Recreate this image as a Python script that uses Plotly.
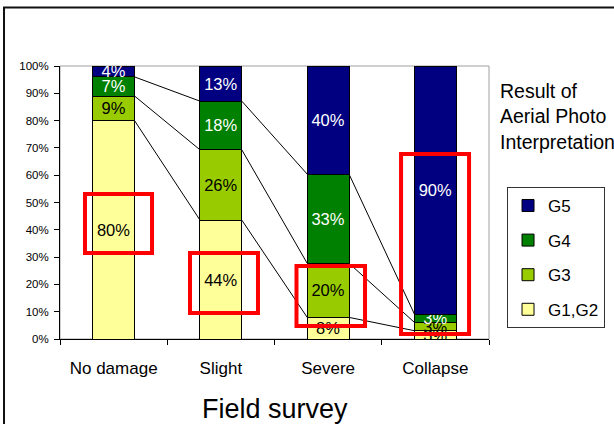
import plotly.graph_objects as go

categories = ["No damage", "Slight", "Severe", "Collapse"]
series_names = ["G1,G2", "G3", "G4", "G5"]
g12 = [80, 44, 8, 3]
g3 = [9, 26, 20, 3]
g4 = [7, 18, 33, 3]
g5 = [4, 13, 40, 90]
y_ticks = [0, 10, 20, 30, 40, 50, 60, 70, 80, 90, 100]
y_tick_labels = [f"{v}%" for v in y_ticks]

colors = ["#FFFF99", "#99CC00", "#008000", "#000080"]
text_colors = ["black", "black", "white", "white"]
REG = "Liberation Sans, Arial, sans-serif"
BAR_W = 0.39

series = [g12, g3, g4, g5]
fig = go.Figure()
for k, (name, vals, col, tc) in enumerate(zip(series_names, series, colors, text_colors)):
    fig.add_trace(go.Bar(
        x=categories, y=vals, name=name, legendgroup=name,
        legendrank=len(series) - k,
        marker=dict(color=col, line=dict(color="black", width=1)),
        width=BAR_W,
        text=[f"{v}%" for v in vals], textposition="inside",
        insidetextanchor="middle", textangle=0,
        textfont=dict(family=REG, size=16.5, color=tc),
        hoverinfo="skip",
    ))

# series lines connecting cumulative tops between adjacent bars
totals = [sum(s[i] for s in series) for i in range(len(categories))]
cum = [[0.0] * len(categories) for _ in series]
for i in range(len(categories)):
    acc = 0.0
    for k, s in enumerate(series):
        acc += s[i]
        cum[k][i] = acc / totals[i] * 100
for k in range(len(series) - 1):
    for i in range(len(categories) - 1):
        fig.add_trace(go.Scatter(
            x=[i + BAR_W / 2, i + 1 - BAR_W / 2], y=[cum[k][i], cum[k][i + 1]],
            xaxis="x2", mode="lines", line=dict(color="black", width=1),
            showlegend=False, hoverinfo="skip",
        ))

red_boxes = [(-0.267, 31.5, 0.358, 53.1), (0.712, 9.5, 1.346, 31.5),
             (1.705, 4.8, 2.344, 26.7), (2.68, 1.8, 3.314, 67.8)]
shapes = [
    dict(type="rect", xref="paper", yref="paper", x0=0, y0=0, x1=1, y1=1,
         line=dict(color="#a0a0a0", width=1), layer="below"),
    dict(type="rect", xref="paper", yref="paper", x0=-0.1305, y0=-0.6, x1=1.6, y1=1.214,
         line=dict(color="#111111", width=2), layer="below"),
]
for x0, y0, x1, y1 in red_boxes:
    shapes.append(dict(type="rect", xref="x2", yref="y", x0=x0, y0=y0, x1=x1, y1=y1,
                       line=dict(color="#FF0000", width=4)))

fig.update_layout(
    width=614, height=424,
    margin=dict(l=60, r=125, t=66, b=85, autoexpand=False),
    paper_bgcolor="white", plot_bgcolor="white",
    barmode="stack", barnorm="percent",
    uniformtext=dict(mode="show", minsize=16.5),
    font=dict(family=REG, color="black"),
    xaxis=dict(type="category", range=[-0.5, 3.5], tickson="boundaries",
               ticks="outside", ticklen=5, tickcolor="black", tickangle=0,
               showline=True, linecolor="black", linewidth=1, showgrid=False,
               automargin=False,
               tickfont=dict(family=REG, size=17), ticklabelstandoff=14),
    xaxis2=dict(overlaying="x", range=[-0.5, 3.5], visible=False),
    yaxis=dict(range=[0, 100], tickvals=y_ticks, ticktext=y_tick_labels,
               ticks="outside", ticklen=5, tickcolor="black",
               showline=True, linecolor="black", linewidth=1, showgrid=False,
               automargin=False,
               tickfont=dict(family=REG, size=11.5), ticklabelstandoff=3, zeroline=False),
    legend=dict(x=1.042, y=0.557, xanchor="left", yanchor="top",
                traceorder="grouped", tracegroupgap=9.5,
                bordercolor="#333333", borderwidth=1,
                font=dict(family=REG, size=17)),
    shapes=shapes,
    annotations=[
        dict(text="Result of<br>Aerial Photo<br>Interpretation", xref="paper", yref="paper",
             x=1.021, y=0.955, xanchor="left", yanchor="top", align="left",
             showarrow=False, font=dict(family=REG, size=19.5)),
        dict(text="Field survey", xref="paper", yref="paper", x=0.5, y=-0.256,
             xanchor="center", yanchor="middle", showarrow=False,
             font=dict(family=REG, size=27)),
    ],
)

fig.write_html("out.html", config={"displayModeBar": False},
               post_script="document.body.style.margin='0px';")
